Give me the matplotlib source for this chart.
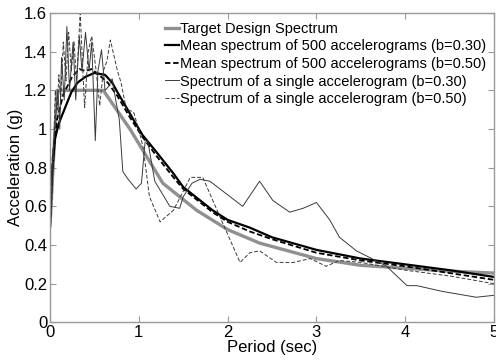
import matplotlib
matplotlib.use('Agg')
import matplotlib.pyplot as plt

plt.rcParams['font.family'] = ['Liberation Sans', 'DejaVu Sans']

# ---- data ----
t_target = [0.0, 0.08, 0.6, 0.9, 1.27, 1.65, 2.0, 2.36, 3.0, 3.5, 4.0, 4.5, 5.0]
a_target = [0.5, 1.2, 1.2, 1.0, 0.72, 0.58, 0.48, 0.41, 0.33, 0.295, 0.28, 0.265, 0.255]

t_mean30 = [0.0, 0.02, 0.056, 0.1, 0.17, 0.24, 0.31, 0.4, 0.5, 0.62, 0.7, 0.76, 0.9,
            1.04, 1.2, 1.39, 1.5, 1.83, 2.0, 2.25, 2.5, 3.0, 3.5, 4.0, 4.5, 5.0]
a_mean30 = [0.5, 0.75, 0.95, 1.03, 1.11, 1.19, 1.24, 1.27, 1.29, 1.28, 1.24, 1.19, 1.08,
            0.97, 0.88, 0.77, 0.70, 0.58, 0.53, 0.49, 0.44, 0.375, 0.33, 0.30, 0.27, 0.235]

t_mean50 = [0.0, 0.03, 0.08, 0.15, 0.25, 0.33, 0.4, 0.47, 0.55, 0.65, 0.76, 0.9,
            1.04, 1.2, 1.39, 1.5, 1.83, 2.0, 2.25, 2.5, 3.0, 3.5, 4.0, 4.5, 5.0]
a_mean50 = [0.5, 0.85, 1.05, 1.18, 1.27, 1.31, 1.3, 1.31, 1.28, 1.24, 1.17, 1.06,
            0.96, 0.86, 0.75, 0.69, 0.57, 0.52, 0.47, 0.43, 0.36, 0.32, 0.29, 0.255, 0.22]

t_single30 = [0.0, 0.03, 0.06, 0.09, 0.11, 0.13, 0.16, 0.19, 0.22, 0.26, 0.29, 0.33, 0.36,
              0.40, 0.44, 0.47, 0.51, 0.54, 0.58, 0.62, 0.66, 0.70, 0.74, 0.78, 0.82, 0.88,
              0.97, 1.03, 1.07, 1.1, 1.18, 1.35, 1.46, 1.5, 1.6, 1.69, 1.8, 2.0, 2.17, 2.36,
              2.51, 2.7, 2.85, 3.0, 3.15, 3.26, 3.45, 3.71, 3.79, 4.02, 4.13, 4.42, 4.8, 5.0]
a_single30 = [0.5, 0.85, 1.05, 1.2, 1.0, 1.37, 1.15, 1.53, 1.2, 1.45, 1.15, 1.48, 1.3,
              1.50, 1.3, 1.45, 0.94, 1.3, 1.41, 1.2, 1.22, 1.26, 1.15, 1.05, 0.78, 0.74,
              0.69, 0.72, 0.93, 0.94, 0.73, 0.60, 0.59, 0.65, 0.72, 0.74, 0.73, 0.66, 0.60, 0.73,
              0.63, 0.57, 0.59, 0.62, 0.53, 0.44, 0.37, 0.31, 0.29, 0.19, 0.19, 0.16, 0.13, 0.14]

t_single50 = [0.0, 0.02, 0.04, 0.06, 0.08, 0.1, 0.12, 0.15, 0.18, 0.21, 0.24, 0.27, 0.3,
              0.34, 0.37, 0.39, 0.43, 0.47, 0.52, 0.56, 0.6, 0.64, 0.68, 0.72, 0.76, 0.8,
              0.86, 0.94, 1.01, 1.05, 1.12, 1.24, 1.39, 1.58, 1.72, 1.91, 2.14, 2.25, 2.36,
              2.55, 2.74, 2.93, 3.11, 3.26, 3.5, 3.75, 4.0, 4.5, 5.0]
a_single50 = [0.48, 0.6, 0.85, 1.2, 1.1, 1.28, 1.15, 1.45, 1.25, 1.5, 1.3, 1.45, 1.25,
              1.6, 1.3, 1.11, 1.4, 1.48, 1.3, 1.12, 1.3, 1.35, 1.46, 1.38, 1.3, 1.24,
              1.1, 1.09, 0.98, 0.9, 0.65, 0.52, 0.58, 0.75, 0.75, 0.55, 0.31, 0.36, 0.37,
              0.31, 0.31, 0.33, 0.29, 0.32, 0.31, 0.29, 0.27, 0.24, 0.2]

labels = ['Target Design Spectrum',
          'Mean spectrum of 500 accelerograms (b=0.30)',
          'Mean spectrum of 500 accelerograms (b=0.50)',
          'Spectrum of a single accelerogram (b=0.30)',
          'Spectrum of a single accelerogram (b=0.50)']

fig = plt.figure(figsize=(4.96, 3.61), dpi=100)
ax = fig.add_axes([0.1008, 0.107, 0.8952, 0.857])

ax.plot(t_target, a_target, color='#909090', lw=2.4, label=labels[0])
ax.plot(t_mean30, a_mean30, color='black', lw=1.6, label=labels[1])
ax.plot(t_mean50, a_mean50, color='black', lw=1.3, ls=(0, (3, 1.5)), label=labels[2])
ax.plot(t_single30, a_single30, color='#3a3a3a', lw=0.7, label=labels[3])
ax.plot(t_single50, a_single50, color='#3a3a3a', lw=0.7, ls=(0, (4, 2)), label=labels[4])

ax.set_xlim(0, 5)
ax.set_ylim(0, 1.6)
ax.set_xticks(range(6))
ax.set_yticks([0, 0.2, 0.4, 0.6, 0.8, 1.0, 1.2, 1.4, 1.6])
ax.set_yticklabels(['0', '0.2', '0.4', '0.6', '0.8', '1', '1.2', '1.4', '1.6'])
ax.tick_params(direction='in', top=True, right=True, length=4, width=0.8,
               color='#999999', labelsize=12, pad=2)
for s in ax.spines.values():
    s.set_color('#999999')
    s.set_linewidth(1.0)

ax.set_xlabel('Period (sec)', fontsize=12, labelpad=0)
ax.set_ylabel('Acceleration (g)', fontsize=12, labelpad=1)

ax.legend(loc='upper left', bbox_to_anchor=(0.259, 0.972), frameon=False,
          fontsize=10.5, handlelength=0.95, handletextpad=0.1, labelspacing=0.25,
          borderpad=0, borderaxespad=0)

fig.savefig('out.png', dpi=100)
